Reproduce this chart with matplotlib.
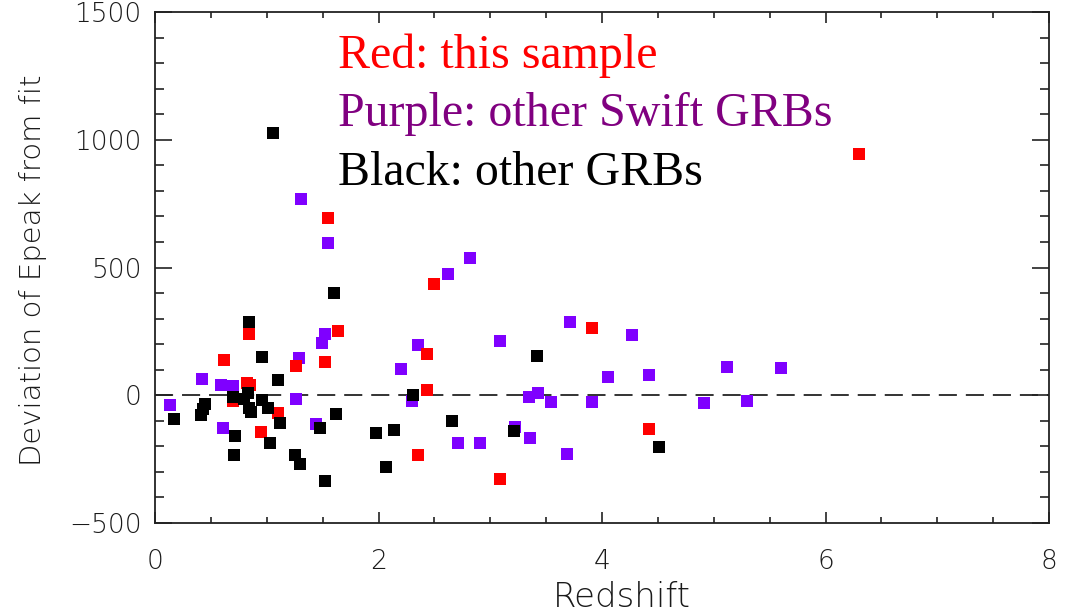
import numpy as np
import matplotlib
matplotlib.use("Agg")
import matplotlib.pyplot as plt
from matplotlib.ticker import MultipleLocator

# ---------------------------------------------------------------------------
# Data
# ---------------------------------------------------------------------------

# Red: this sample
red_z = [1.55, 1.64, 0.84, 0.62, 1.26, 1.52, 0.82, 0.85, 0.70, 1.10, 0.95,
         2.50, 2.43, 2.43, 3.91, 2.35, 3.09, 4.42, 6.30]
red_dev = [693, 252, 241, 137, 115, 132, 48, 42, -22, -68, -142,
           436, 161, 21, 262, -235, -329, -131, 946]

# Purple: other Swift GRBs
purple_z = [1.31, 1.55, 1.52, 1.49, 1.29, 0.42, 0.59, 0.70, 0.13, 1.26, 0.61,
            1.44, 2.82, 2.62, 2.35, 2.20, 3.09, 3.71, 4.27, 4.05, 4.42, 2.30,
            3.35, 3.43, 3.54, 3.91, 3.22, 3.36, 2.71, 2.91, 3.69, 5.12, 5.60,
            4.91, 5.30]
purple_dev = [767, 595, 241, 206, 144, 63, 42, 36, -39, -16, -127,
              -111, 536, 474, 197, 101, 213, 285, 235, 72, 80, -22,
              -5, 10, -26, -26, -124, -168, -188, -185, -231, 111, 106,
              -31, -23]

# Black: other GRBs
black_z = [1.06, 1.60, 0.84, 0.96, 1.10, 0.70, 0.83, 0.80, 0.84, 0.86, 0.96,
           1.01, 1.12, 0.45, 0.43, 0.41, 0.17, 0.72, 0.71, 1.03, 1.25, 1.30,
           1.52, 1.62, 1.48, 1.98, 2.14, 2.07, 3.42, 2.31, 2.66, 3.21, 4.51]
black_dev = [1025, 399, 285, 148, 59, -5, 7, -16, -48, -65, -20,
             -51, -107, -35, -55, -77, -94, -159, -235, -185, -235, -268,
             -335, -73, -129, -146, -136, -281, 154, 0, -100, -140, -201]

legend_lines = ["Red: this sample", "Purple: other Swift GRBs",
                "Black: other GRBs"]
legend_colors = ["#ff0000", "#800080", "#000000"]

# ---------------------------------------------------------------------------
# Figure
# ---------------------------------------------------------------------------

thin = dict(family="DejaVu Sans", weight="light", color="#1a1a1a")

fig = plt.figure(figsize=(10.65, 6.12), dpi=100)
ax = fig.add_axes([155 / 1065, 1 - 523 / 612, (1049 - 155) / 1065, (523 - 12) / 612])

ax.axhline(0, color="#333333", lw=1.4, linestyle=(0, (9.3, 4.6)), zorder=1)

mk = dict(marker="s", linestyle="none", markersize=8, markeredgewidth=0)
ax.plot(purple_z, purple_dev, color="#7f00ff", zorder=3, **mk)
ax.plot(red_z, red_dev, color="#ff0000", zorder=4, **mk)
ax.plot(black_z, black_dev, color="#000000", zorder=5, **mk)

ax.set_xlim(0, 8)
ax.set_ylim(-500, 1500)
ax.xaxis.set_major_locator(MultipleLocator(2))
ax.xaxis.set_minor_locator(MultipleLocator(0.5))
ax.yaxis.set_major_locator(MultipleLocator(500))
ax.yaxis.set_minor_locator(MultipleLocator(100))

for s in ax.spines.values():
    s.set_linewidth(1.3)
    s.set_color("#222222")

ax.tick_params(axis="x", which="both", direction="in", top=True,
               color="#222222", width=1.2, pad=19)
ax.tick_params(axis="x", which="major", length=8)
ax.tick_params(axis="x", which="minor", length=4)
ax.tick_params(axis="y", which="both", direction="in", right=True,
               color="#222222", width=1.2, pad=9.5)
ax.tick_params(axis="y", which="major", length=12.5)
ax.tick_params(axis="y", which="minor", length=6.5)

ax.set_xticks([0, 2, 4, 6, 8])
ax.set_xticklabels(["0", "2", "4", "6", "8"], fontsize=19, **thin)
ax.set_yticks([-500, 0, 500, 1000, 1500])
ax.set_yticklabels(["\u2212500", "0", "500", "1000", "1500"], fontsize=19, **thin)

# axis titles placed where the reference has them
fig.text(622 / 1065, 1 - 607 / 612, "Redshift", fontsize=24.5,
         ha="center", va="baseline", **thin)
fig.text(33 / 1065, 1 - 270 / 612, "Deviation of Epeak from fit", fontsize=21,
         rotation=90, ha="center", va="center", **thin)

# coloured legend text
for i, (txt, col) in enumerate(zip(legend_lines, legend_colors)):
    fig.text(338 / 1065, 1 - (68 + 58.5 * i) / 612, txt, color=col,
             fontsize=34.5, family="Liberation Serif", ha="left", va="baseline")

fig.savefig("out.png", dpi=100)
